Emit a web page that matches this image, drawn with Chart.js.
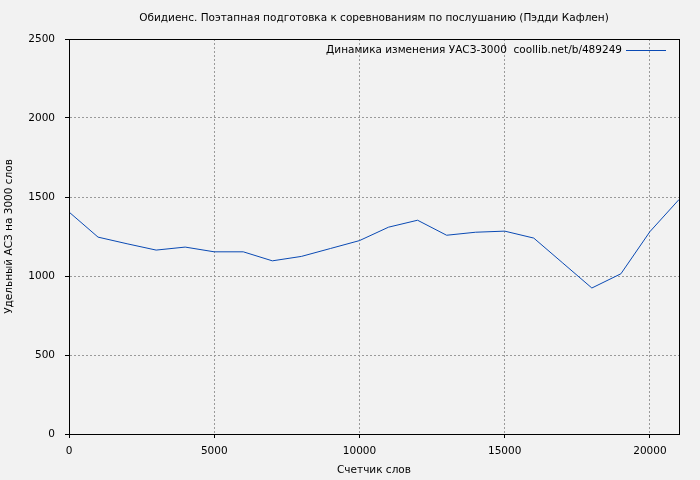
<!DOCTYPE html>
<html>
<head>
<meta charset="utf-8">
<script src="https://cdn.jsdelivr.net/npm/chart.js@4/dist/chart.umd.min.js"></script>
<style>
  html, body { margin: 0; padding: 0; background: #f2f2f2; }
  #wrap { width: 700px; height: 480px; }
</style>
</head>
<body>
<div id="wrap"><canvas id="chart"></canvas></div>
<script>
// --- Data ---
const chartTitle = 'Обидиенс. Поэтапная подготовка к соревнованиям по послушанию (Пэдди Кафлен)';
const seriesLabel = 'Динамика изменения УАСЗ-3000  coollib.net/b/489249';
const xTitle = 'Счетчик слов';
const yTitle = 'Удельный АСЗ на 3000 слов';

const wordCounts = [0, 1000, 2000, 3000, 4000, 5000, 6000, 7000, 8000, 9000, 10000,
    11000, 12000, 13000, 14000, 15000, 16000, 17000, 18000, 19000, 20000, 21000];
const uasValues = [1405, 1246, 1204, 1164, 1183, 1153, 1153, 1096, 1124, 1174, 1224,
    1309, 1353, 1258, 1277, 1284, 1240, 1082, 924, 1014, 1281, 1484];

const xTicks = [0, 5000, 10000, 15000, 20000];
const yTicks = [0, 500, 1000, 1500, 2000, 2500];
const xMax = 21000;
const yMax = 2500;
const font = 'DejaVu Sans';
const fontSize = 10.5;

// --- Plugins ---
const framePlugin = {
    id: 'frame',
    beforeDraw(chart) {
        const ctx = chart.ctx;
        ctx.save();
        ctx.fillStyle = '#f2f2f2';
        ctx.fillRect(0, 0, chart.width, chart.height);
        ctx.restore();
    },
    afterDraw(chart) {
        const { ctx, chartArea: a } = chart;
        ctx.save();
        ctx.strokeStyle = '#000';
        ctx.lineWidth = 1;
        ctx.strokeRect(Math.round(a.left) + 0.5, Math.round(a.top) + 0.5,
            Math.round(a.right - a.left), Math.round(a.bottom - a.top));

        // title, centred over the plot area
        ctx.fillStyle = '#000';
        ctx.font = fontSize + 'px "' + font + '"';
        ctx.textAlign = 'center';
        ctx.textBaseline = 'middle';
        ctx.fillText(chartTitle, (a.left + a.right) / 2, 18);

        // legend: text then line sample, top right inside the plot
        const ds = chart.data.datasets[0];
        const ly = a.top + 11;
        ctx.textAlign = 'right';
        ctx.fillText(ds.label, a.right - 57, ly);
        ctx.strokeStyle = ds.borderColor;
        ctx.beginPath();
        ctx.moveTo(a.right - 53, Math.round(ly) + 0.5);
        ctx.lineTo(a.right - 13, Math.round(ly) + 0.5);
        ctx.stroke();
        ctx.restore();
    }
};

// --- Chart ---
const ctx = document.getElementById('chart').getContext('2d');
new Chart(ctx, {
    type: 'line',
    data: {
        datasets: [{
            label: seriesLabel,
            data: wordCounts.map((x, i) => ({ x, y: uasValues[i] })),
            borderColor: '#0a4ab4',
            borderWidth: 1,
            pointRadius: 0,
            fill: false,
            tension: 0
        }]
    },
    options: {
        responsive: true,
        maintainAspectRatio: false,
        animation: false,
        layout: { padding: { top: 39, right: 21, left: 0, bottom: 0 } },
        plugins: {
            legend: { display: false },
            title: { display: false },
            tooltip: { enabled: false }
        },
        scales: {
            x: {
                type: 'linear',
                min: 0,
                max: xMax,
                afterFit: s => { s.height = 46; },
                afterBuildTicks: s => { s.ticks = xTicks.map(v => ({ value: v })); },
                ticks: {
                    color: '#000',
                    padding: 7,
                    maxRotation: 0,
                    autoSkip: false,
                    callback: v => String(v),
                    font: { family: font, size: fontSize }
                },
                grid: {
                    color: '#9a9a9a',
                    tickColor: '#000',
                    tickLength: 4,
                    tickBorderDash: []
                },
                border: { color: '#000', width: 1, dash: [2, 2] },
                title: {
                    display: true,
                    text: xTitle,
                    color: '#000',
                    font: { family: font, size: fontSize },
                    padding: { top: 0, bottom: 3 }
                }
            },
            y: {
                min: 0,
                max: yMax,
                afterFit: s => { s.width = 69; },
                afterBuildTicks: s => { s.ticks = yTicks.map(v => ({ value: v })); },
                ticks: {
                    color: '#000',
                    padding: 10,
                    callback: v => String(v),
                    font: { family: font, size: fontSize }
                },
                grid: {
                    color: '#9a9a9a',
                    tickColor: '#000',
                    tickLength: 4,
                    tickBorderDash: []
                },
                border: { color: '#000', width: 1, dash: [2, 2] },
                title: {
                    display: true,
                    text: yTitle,
                    color: '#000',
                    font: { family: font, size: fontSize },
                    padding: { top: 3, bottom: 0 }
                }
            }
        }
    },
    plugins: [framePlugin]
});
</script>
</body>
</html>
